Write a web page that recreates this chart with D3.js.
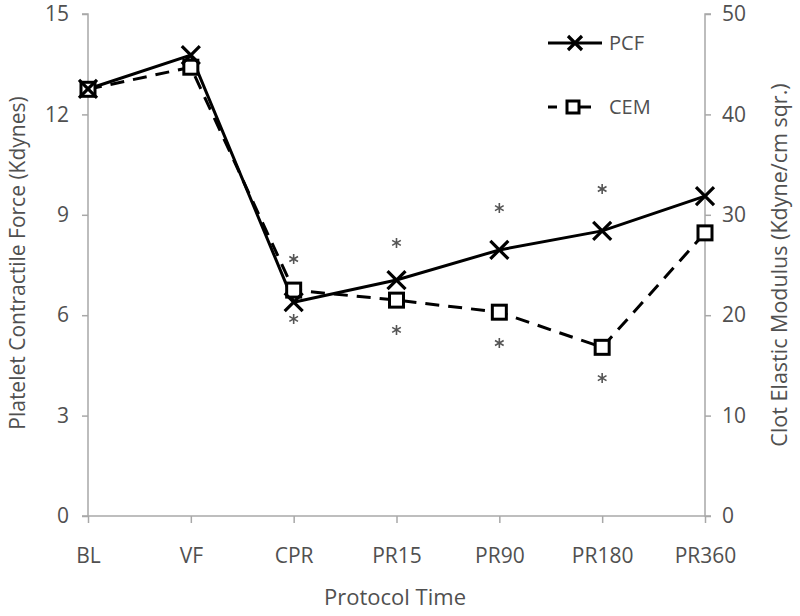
<!DOCTYPE html>
<html><head><meta charset="utf-8">
<script src="https://cdn.jsdelivr.net/npm/d3@7"></script>
<style>body{margin:0;background:#fff;} text{font-family:"Open Sans", sans-serif;}</style>
</head><body>
<svg id="c" width="800" height="616"></svg>
<script>
const categories = ["BL","VF","CPR","PR15","PR90","PR180","PR360"];
const pcf = [12.76, 13.77, 6.39, 7.05, 7.95, 8.52, 9.56];
const cem = [42.5, 44.7, 22.5, 21.5, 20.3, 16.8, 28.2];
const leftTicks = [0,3,6,9,12,15];
const rightTicks = [0,10,20,30,40,50];
// significance asterisks (left-axis units)
const sigUpper = [null, null, 7.68, 8.16, 9.2, 9.77, null];
const sigLower = [null, null, 5.89, 5.56, 5.17, 4.12, null];

const svg = d3.select("#c");
const L = 88, R = 705, T = 14, B = 516;
const x = d3.scalePoint().domain(categories).range([L, R]);
const yL = d3.scaleLinear().domain([0,15]).range([B, T]);
const yR = d3.scaleLinear().domain([0,50]).range([B, T]);
const axisCol = "#a8a8a8", textCol = "#505050";
const FONT = "'Open Sans', sans-serif";

// axes
const gL = svg.append("g").attr("transform",`translate(${L},0)`)
  .call(d3.axisLeft(yL).tickValues(leftTicks).tickSize(6).tickPadding(13));
const gR = svg.append("g").attr("transform",`translate(${R},0)`)
  .call(d3.axisRight(yR).tickValues(rightTicks).tickSize(6).tickPadding(11));
const gB = svg.append("g").attr("transform",`translate(0,${B})`)
  .call(d3.axisBottom(x).tickSize(7).tickPadding(25));
[gL,gR,gB].forEach(g=>{
  g.select(".domain").attr("stroke",axisCol).attr("stroke-width",1.5);
  g.selectAll(".tick line").attr("stroke",axisCol).attr("stroke-width",1.5);
  g.selectAll(".tick text").attr("fill",textCol).style("font-size","21px").style("font-family",FONT);
});
gB.select(".domain").attr("d",`M${L},0H${R}`);
gL.select(".domain").attr("d",`M-6,${T}H0V${B}H-6`);
gR.select(".domain").attr("d",`M6,${T}H0V${B}H6`);

// titles
svg.append("text").attr("x",395).attr("y",605).attr("text-anchor","middle")
  .attr("fill",textCol).style("font-size","22px").text("Protocol Time");
svg.append("text").attr("transform",`translate(25,263) rotate(-90)`).attr("text-anchor","middle")
  .attr("fill",textCol).style("font-size","21px").text("Platelet Contractile Force (Kdynes)");
svg.append("text").attr("transform",`translate(787,265) rotate(-90)`).attr("text-anchor","middle")
  .attr("fill",textCol).style("font-size","21.5px").text("Clot Elastic Modulus (Kdyne/cm sqr.)");

// lines
const lineL = d3.line().x((d,i)=>x(categories[i])).y(d=>yL(d));
const lineR = d3.line().x((d,i)=>x(categories[i])).y(d=>yR(d));
svg.append("path").attr("d",lineR(cem)).attr("fill","none").attr("stroke","#000")
  .attr("stroke-width",3).attr("stroke-dasharray","14,9");
svg.append("path").attr("d",lineL(pcf)).attr("fill","none").attr("stroke","#000")
  .attr("stroke-width",3);

function xMarker(g, cx, cy, s){
  g.append("path").attr("d",`M${cx-s},${cy-s}L${cx+s},${cy+s}M${cx-s},${cy+s}L${cx+s},${cy-s}`)
   .attr("stroke","#000").attr("stroke-width",3.2).attr("fill","none");
}
function sqMarker(g, cx, cy, s){
  g.append("rect").attr("x",cx-s).attr("y",cy-s).attr("width",2*s).attr("height",2*s)
   .attr("fill","#fff").attr("stroke","#000").attr("stroke-width",3);
}
cem.forEach((v,i)=>sqMarker(svg, x(categories[i]), yR(v), 7));
pcf.forEach((v,i)=>xMarker(svg, x(categories[i]), yL(v), 9));

// asterisks
function asterisk(cx, cy, r){
  let d = "";
  for (let k=0;k<3;k++){
    const a = Math.PI/2 + k*Math.PI/3;
    d += `M${cx+r*Math.cos(a)},${cy+r*Math.sin(a)}L${cx-r*Math.cos(a)},${cy-r*Math.sin(a)}`;
  }
  svg.append("path").attr("d",d).attr("stroke","#555").attr("stroke-width",1.6).attr("fill","none");
}
[sigUpper, sigLower].forEach(arr=>arr.forEach((v,i)=>{ if(v!=null) asterisk(x(categories[i]), yL(v), 5); }));

// legend
const lg = svg.append("g");
lg.append("line").attr("x1",548).attr("x2",602).attr("y1",43).attr("y2",43).attr("stroke","#000").attr("stroke-width",3);
xMarker(lg, 575, 43, 7);
lg.append("text").attr("x",609).attr("y",43).attr("dy","0.36em").attr("fill",textCol).style("font-size","20px").text("PCF");
lg.append("line").attr("x1",548).attr("x2",557).attr("y1",107).attr("y2",107).attr("stroke","#000").attr("stroke-width",3);
lg.append("line").attr("x1",568).attr("x2",591).attr("y1",107).attr("y2",107).attr("stroke","#000").attr("stroke-width",3);
sqMarker(lg, 573, 107, 6);
lg.append("text").attr("x",609).attr("y",107).attr("dy","0.36em").attr("fill",textCol).style("font-size","20px").text("CEM");
</script>
</body></html>
